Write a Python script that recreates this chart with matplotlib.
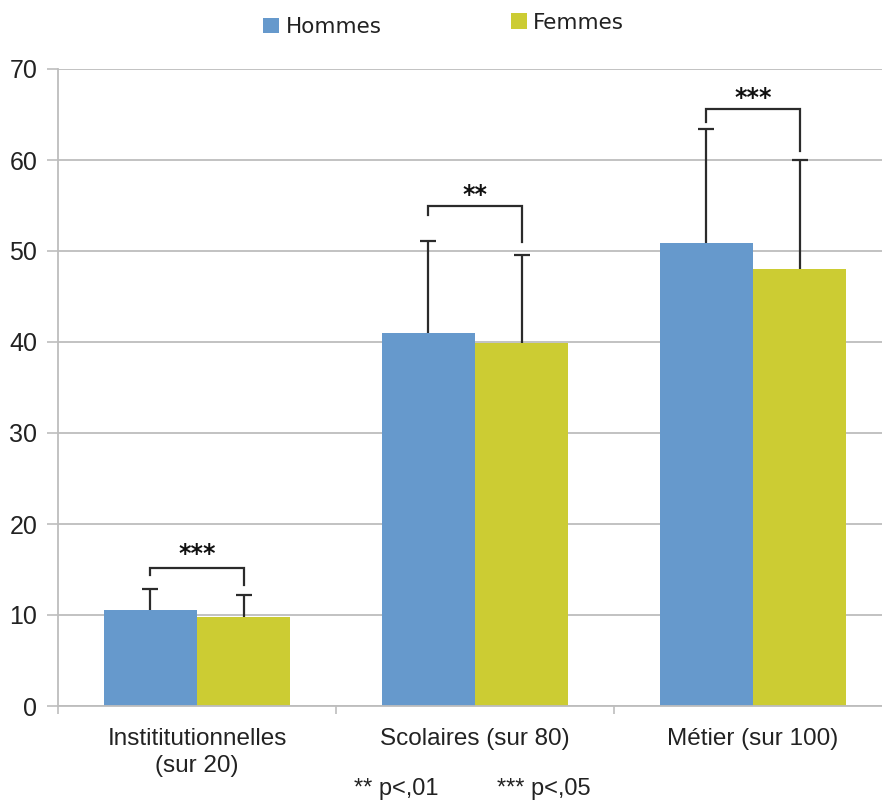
import numpy as np
import matplotlib
matplotlib.use("Agg")
import matplotlib.pyplot as plt
from matplotlib.patches import Rectangle

# Data
categories = ["Instititutionnelles\n(sur 20)", "Scolaires (sur 80)", "Métier (sur 100)"]
series_names = ["Hommes", "Femmes"]
hommes = [10.55, 40.95, 50.9]
femmes = [9.75, 39.85, 48.0]
hommes_sd = [2.3, 10.15, 12.5]
femmes_sd = [2.45, 9.75, 12.0]
sig_labels = ["***", "**", "***"]
bracket_top = [15.2, 54.9, 65.6]
bracket_left_end = [14.4, 54.0, 64.2]
bracket_right_end = [13.3, 51.0, 61.0]
star_level = [16.7, 56.2, 66.8]
yticks = [0, 10, 20, 30, 40, 50, 60, 70]
note_left = "** p<,01"
note_right = "*** p<,05"

c_h = "#6699CC"
c_f = "#CCCC33"
grid_c = "#bdbdbd"
err_c = "#2b2b2b"
text_c = "#222222"

W, H = 882, 800
fig = plt.figure(figsize=(W / 100, H / 100), dpi=100)
fig.patch.set_facecolor("white")

# axes spans x = -0.5 .. 2.5 (part of the last category runs off the canvas)
ax_left, ax_right = 58, 892
ax_top, ax_bottom = 69, 706
ax = fig.add_axes([ax_left / W, 1 - ax_bottom / H,
                   (ax_right - ax_left) / W, (ax_bottom - ax_top) / H])
ax.set_xlim(-0.5, 2.5)
ax.set_ylim(0, 70)

x = np.arange(len(categories))
bw = 0.335
xh = x - bw / 2
xf = x + bw / 2

ax.bar(xh, hommes, width=bw, color=c_h, zorder=2, linewidth=0)
ax.bar(xf, femmes, width=bw, color=c_f, zorder=2, linewidth=0)

# upper-only error bars
for xs, vals, sd in ((xh, hommes, hommes_sd), (xf, femmes, femmes_sd)):
    _, caps, _ = ax.errorbar(xs, vals, yerr=[np.zeros(len(sd)), sd], fmt="none",
                             ecolor=err_c, elinewidth=1.6, capsize=5.6,
                             capthick=1.6, zorder=3)
    caps[0].set_visible(False)

# significance brackets
for i in range(len(categories)):
    ax.plot([xh[i], xh[i], xf[i], xf[i]],
            [bracket_left_end[i], bracket_top[i], bracket_top[i], bracket_right_end[i]],
            color=err_c, lw=1.6, zorder=3, solid_joinstyle="miter")
    ax.text(x[i], star_level[i], sig_labels[i], ha="center", va="center",
            fontsize=17, fontweight="bold", family="DejaVu Sans", color="#111111")

# grid and axes styling
ax.set_yticks(yticks)
ax.yaxis.grid(True, color=grid_c, lw=1.3, zorder=0)
ax.set_axisbelow(True)
for s in ("top", "right"):
    ax.spines[s].set_visible(False)
for s in ("left", "bottom"):
    ax.spines[s].set_color(grid_c)
    ax.spines[s].set_linewidth(1.3)
ax.tick_params(axis="y", length=8, width=1.2, color=grid_c, pad=7,
               labelsize=18, labelcolor=text_c)
for lab in ax.get_yticklabels():
    lab.set_family("Liberation Sans")

ax.set_xticks([-0.5, 0.5, 1.5, 2.5])
ax.set_xticklabels([])
ax.tick_params(axis="x", which="major", length=6, width=1.2, color=grid_c)
ax.set_xticks(x, minor=True)
ax.set_xticklabels(categories, minor=True, fontsize=17.5, color=text_c,
                   family="Liberation Sans", linespacing=1.3)
ax.tick_params(axis="x", which="minor", length=0, pad=16)

# legend entries
def legend_item(x0, top, w, h, color, label, tx, baseline):
    fig.add_artist(Rectangle((x0 / W, 1 - (top + h) / H), w / W, h / H,
                             transform=fig.transFigure, color=color, lw=0))
    fig.text(tx / W, 1 - baseline / H, label, fontsize=15.5, family="DejaVu Sans",
             color=text_c, va="baseline", ha="left")

legend_item(263, 18, 16, 15, c_h, series_names[0], 286, 33)
legend_item(511, 13, 16, 16, c_f, series_names[1], 533, 29)

# footnote
fig.text(354 / W, 1 - 795 / H, note_left, fontsize=17, family="Liberation Sans",
         color=text_c, va="baseline", ha="left")
fig.text(497 / W, 1 - 795 / H, note_right, fontsize=17, family="Liberation Sans",
         color=text_c, va="baseline", ha="left")

fig.savefig("out.png", dpi=100, facecolor="white")
